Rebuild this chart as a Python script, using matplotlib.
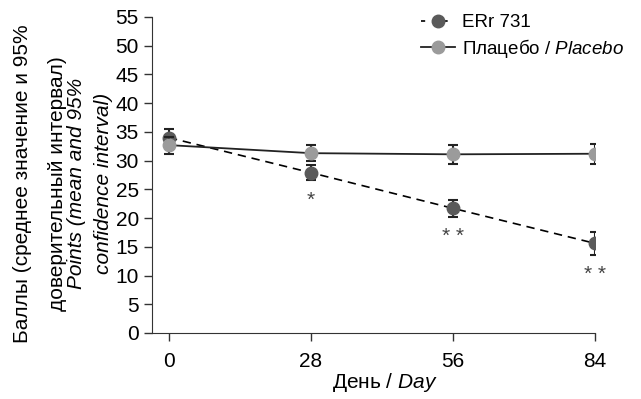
import matplotlib
matplotlib.use('Agg')
import matplotlib.pyplot as plt
from matplotlib.lines import Line2D

# Шрифт
fam = 'Liberation Sans'
plt.rcParams['font.family'] = [fam, 'DejaVu Sans']
plt.rcParams['mathtext.fontset'] = 'custom'
plt.rcParams['mathtext.rm'] = fam
plt.rcParams['mathtext.it'] = fam + ':italic'

# Данные
days = [0, 28, 56, 84]
err_mean = [34.0, 27.9, 21.7, 15.6]
err_ci = [1.5, 1.3, 1.5, 2.0]
plc_mean = [32.7, 31.3, 31.1, 31.2]
plc_ci = [1.5, 1.4, 1.6, 1.75]
stars = ['', '*', '* *', '* *']
yticks = list(range(0, 56, 5))

c_err = '#5a5a5a'
c_plc = '#9b9b9b'

fig = plt.figure(figsize=(6.41, 3.99), dpi=100)
ax = fig.add_axes([152 / 641, 1 - 333 / 399, (595 - 152) / 641, (333 - 17) / 399])

ax.errorbar(days, err_mean, yerr=err_ci, color='black', ls=(0, (5, 3.5)), lw=1.2,
            marker='o', ms=9, mfc=c_err, mec=c_err,
            ecolor='#222222', elinewidth=1.5, capsize=3.5, capthick=1.5, zorder=3)
ax.errorbar(days, plc_mean, yerr=plc_ci, color='#222222', ls='-', lw=1.3,
            marker='o', ms=9, mfc=c_plc, mec=c_plc,
            ecolor='#222222', elinewidth=1.5, capsize=3.5, capthick=1.5, zorder=4)

for d, m, c, s in zip(days, err_mean, err_ci, stars):
    if s:
        ax.annotate(s, (d, m - c), xytext=(0, -21), textcoords='offset points',
                    ha='center', va='bottom', fontsize=15, color='#444444')

ax.set_xlim(-3.35, 84)
ax.set_ylim(0, 55)
ax.set_xticks(days)
ax.set_yticks(yticks)
ax.tick_params(labelsize=15, length=6, width=1, color='#333333')
ax.tick_params(axis='x', pad=8)
for sp in ['top', 'right']:
    ax.spines[sp].set_visible(False)
for sp in ['left', 'bottom']:
    ax.spines[sp].set_color('#333333')

ax.set_xlabel('День / $\\mathit{Day}$', fontsize=15)
ax.xaxis.set_label_coords((385 - 152) / 443, -0.12)

# Подпись оси Y: четыре строки
fig.text(32 / 641, 0.54, 'Баллы (среднее значение и 95%', rotation=90,
         ha='right', va='center', fontsize=15)
fig.text(67 / 641, 0.54, 'доверительный интервал)', rotation=90,
         ha='right', va='center', fontsize=15)
fig.text(86 / 641, 0.54, 'Points (mean and 95%', rotation=90,
         ha='right', va='center', fontsize=15, style='italic')
fig.text(113 / 641, 0.54, 'confidence interval)', rotation=90,
         ha='right', va='center', fontsize=15, style='italic')

# Легенда
h_err = Line2D([], [], color='black', lw=1.2, ls=(0, (2.5, 11)), marker='o', ms=9,
               mfc=c_err, mec=c_err)
h_plc = Line2D([], [], color='#222222', lw=1.3, ls='-', marker='o', ms=9,
               mfc=c_plc, mec=c_plc)
ax.legend([h_err, h_plc], ['ERr 731', 'Плацебо / $\\mathit{Placebo}$'],
          loc='upper left', bbox_to_anchor=(410 / 641, 1 - 3 / 399), bbox_transform=fig.transFigure,
          frameon=False, fontsize=13.5, handlelength=1.8, handletextpad=0.4,
          labelspacing=0.3, borderaxespad=0.2)

fig.savefig('out.png', dpi=100)
